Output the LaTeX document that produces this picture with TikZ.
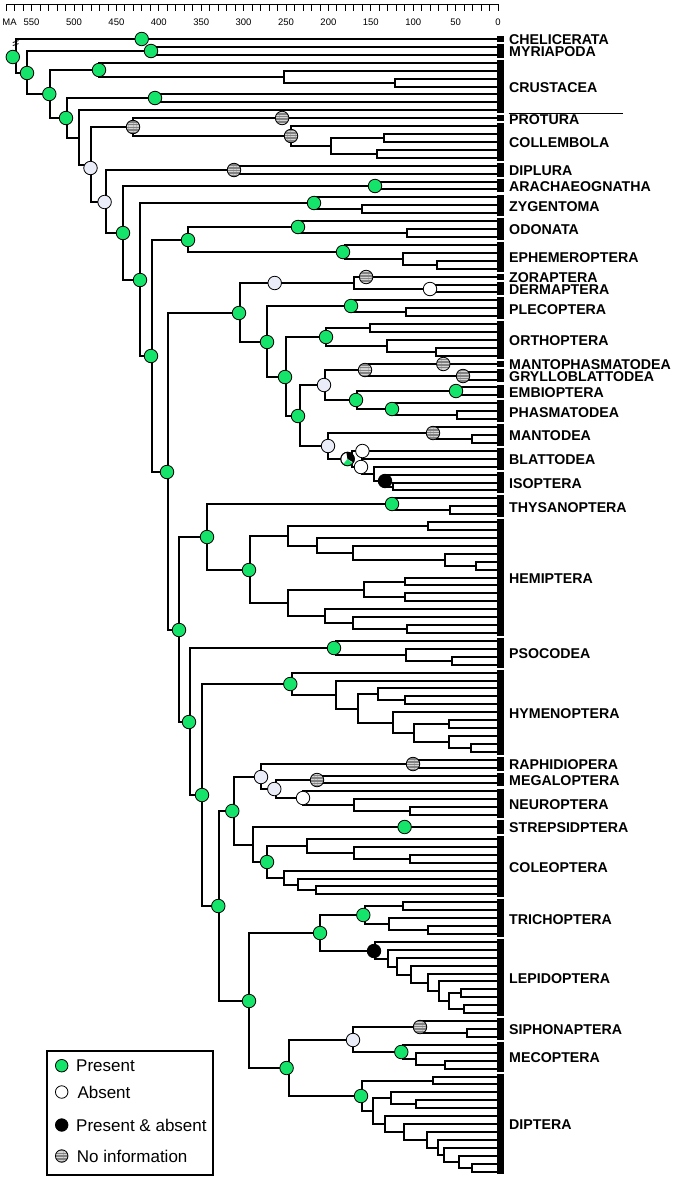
\documentclass[tikz,border=0pt]{standalone}
\usepackage{fontspec}
\setmainfont{Liberation Sans}
\usetikzlibrary{calc,patterns.meta}
\definecolor{pgreen}{RGB}{20,228,105}
\definecolor{lav}{RGB}{234,237,248}
\definecolor{ngray}{RGB}{130,130,130}
\definecolor{nstripe}{RGB}{212,212,212}
\newcommand\TY[1]{39+7.92*(#1)}
\newcommand\Nd[4]{\path let \p1=(#3),\p2=(#4) in coordinate (#1) at ({round(#2)*1pt},{round(0.5*(\y1+\y2))*1pt});\draw[br] (#3) -| (#1) |- (#4);}
\newcommand\Grp[4]{\fill (496.5,{\TY{#1}-2.9}) rectangle (503.5,{\TY{#2}+2.9});\node[lab] (#4) at (509,{0.5*(\TY{#1}+\TY{#2})+1}) {#3};}
\tikzset{
  br/.style={line width=1.8pt},
  mk/.style={circle,draw=black,line width=0.8pt,minimum size=13.5pt,inner sep=0pt},
  stPres/.style={mk,fill=pgreen},
  stAbs/.style={mk,fill=white},
  stAbsL/.style={mk,fill=lav},
  stBoth/.style={mk,fill=black},
  stNo/.style={mk,preaction={fill=ngray},pattern={Lines[angle=0,distance=2.7pt,line width=1.1pt]},pattern color=nstripe},
  lab/.style={anchor=west,font=\fontsize{14.2}{16}\selectfont\bfseries,inner sep=0pt},
  axl/.style={font=\fontsize{9.5}{10}\selectfont,inner sep=0pt},
  leg/.style={anchor=west,font=\fontsize{17}{19}\selectfont,inner sep=0pt},
}
\begin{document}
\begin{tikzpicture}[x=1pt,y=-1pt]
\useasboundingbox (0,0) rectangle (676,1179);
% axis
\draw[line width=1.1pt] (6.2,4.5) -- (498.5,4.5);
\foreach \t in {0,10,...,580} {\draw[line width=0.8pt] ({498-0.848*\t},4.5) -- ++(0,6);}
\foreach \t in {0,50,...,550} {\node[axl] (ax\t) at ({498-0.848*\t},22) {\t};}
\node[axl] (axMA) at (9.5,22) {MA};
% tips
\foreach \k in {0,...,143} {\coordinate (k\k) at (497,{round(\TY{\k})});}
\coordinate (str) at (497,827);
% tree
\Nd{cC}{395.2}{k5}{k6}
\Nd{cB}{283.8}{k4}{cC}
\Nd{cA}{98.8}{k3}{cB}
\Nd{cD}{154.7}{k7}{k8}
\Nd{my}{151.2}{k1}{k2}
\Nd{co2}{383.9}{k12}{k13}
\Nd{co3}{377}{k14}{k15}
\Nd{co1}{330.6}{co2}{co3}
\Nd{col}{291.2}{k11}{co1}
\Nd{ent}{132.5}{k10}{col}
\Nd{dip}{234}{k16}{k17}
\Nd{arc}{375.3}{k18}{k19}
\Nd{zy1}{361.8}{k21}{k22}
\Nd{zyg}{314.2}{k20}{zy1}
\Nd{od1}{407.3}{k24}{k25}
\Nd{odo}{298.1}{k23}{od1}
\Nd{e2}{436.6}{k28}{k29}
\Nd{e1}{402.9}{k27}{e2}
\Nd{eph}{344.5}{k26}{e1}
\Nd{pal}{188.3}{odo}{eph}
\Nd{der}{429.8}{k31}{k32}
\Nd{zd}{354}{k30}{der}
\Nd{pl1}{405.6}{k34}{k35}
\Nd{ple}{353.3}{k33}{pl1}
\Nd{or1}{369.8}{k36}{k37}
\Nd{or3}{435.9}{k39}{k40}
\Nd{or2}{386.7}{k38}{or3}
\Nd{ort}{326}{or1}{or2}
\Nd{gry}{462.9}{k42}{k43}
\Nd{mg}{364.8}{k41}{gry}
\Nd{emb}{458.5}{k44}{k45}
\Nd{ph1}{456.8}{k47}{k48}
\Nd{pha}{391.7}{k46}{ph1}
\Nd{ep}{356.7}{emb}{pha}
\Nd{w}{324.6}{mg}{ep}
\Nd{ma1}{472}{k50}{k51}
\Nd{man}{432.5}{k49}{ma1}
\Nd{is1}{392.8}{k56}{k57}
\Nd{iso}{385}{k55}{is1}
\Nd{b2}{374.2}{k54}{iso}
\Nd{b1}{362.4}{k53}{b2}
\Nd{b0}{351.6}{k52}{b1}
\Nd{dic}{328}{man}{b0}
\Nd{d}{300}{w}{dic}
\Nd{p2}{285.5}{ort}{d}
\Nd{p1}{267.3}{ple}{p2}
\Nd{pol}{240.4}{zd}{p1}
\Nd{th1}{450}{k59}{k60}
\Nd{thy}{391.7}{k58}{th1}
\Nd{h1a}{428.2}{k61}{k62}
\Nd{h1e}{476.4}{k66}{k67}
\Nd{h1d}{445}{k65}{h1e}
\Nd{h1c}{353}{k64}{h1d}
\Nd{h1b}{316.9}{k63}{h1c}
\Nd{h1}{288.2}{h1a}{h1b}
\Nd{g1a}{405.2}{k68}{k69}
\Nd{g1b}{405.2}{k70}{k71}
\Nd{g1}{364.1}{g1a}{g1b}
\Nd{g4}{406.9}{k74}{k75}
\Nd{g3}{353}{k73}{g4}
\Nd{g2}{324.6}{k72}{g3}
\Nd{h2}{288.2}{g1}{g2}
\Nd{hem}{249.5}{h1}{h2}
\Nd{acr}{207.3}{thy}{hem}
\Nd{ps2}{451.8}{k78}{k79}
\Nd{ps1}{406.2}{k77}{ps2}
\Nd{pso}{336.4}{k76}{ps1}
\Nd{y5}{405.2}{k83}{k84}
\Nd{y3}{378.3}{k82}{y5}
\Nd{y7}{449.4}{k86}{k87}
\Nd{y9}{471}{k89}{k90}
\Nd{y8}{449.4}{k88}{y9}
\Nd{y6}{414}{y7}{y8}
\Nd{y4}{393.4}{k85}{y6}
\Nd{y2}{358.4}{y3}{y4}
\Nd{y1}{336.4}{k81}{y2}
\Nd{hym}{291.6}{k80}{y1}
\Nd{rap}{413}{k91}{k92}
\Nd{meg}{316.9}{k93}{k94}
\Nd{nu2}{409.6}{k97}{k98}
\Nd{nu1}{354}{k96}{nu2}
\Nd{neu}{303.4}{k95}{nu1}
\Nd{nb}{276.4}{meg}{neu}
\Nd{na}{261.3}{rap}{nb}
\Nd{c4}{409.6}{k103}{k104}
\Nd{c3}{354}{k102}{c4}
\Nd{c1}{306.8}{k101}{c3}
\Nd{c6}{316.2}{k107}{k108}
\Nd{c5}{297.7}{k106}{c6}
\Nd{c2}{284.2}{k105}{c5}
\Nd{cole}{267.3}{c1}{c2}
\Nd{sc}{252.8}{str}{cole}
\Nd{n6}{234.3}{na}{sc}
\Nd{t1}{402.9}{k109}{k110}
\Nd{t3}{428.2}{k112}{k113}
\Nd{t2}{388.7}{k111}{t3}
\Nd{tri}{365.1}{t1}{t2}
\Nd{l7}{460.9}{k120}{k121}
\Nd{l8}{463.6}{k122}{k123}
\Nd{l6}{449.1}{l7}{l8}
\Nd{l5}{438.9}{k119}{l6}
\Nd{l4}{428.2}{k118}{l5}
\Nd{l3}{410.6}{k117}{l4}
\Nd{l2}{397.1}{k116}{l3}
\Nd{l1}{387.7}{k115}{l2}
\Nd{lep}{375.2}{k114}{l1}
\Nd{amp}{319.6}{tri}{lep}
\Nd{s1}{466.9}{k125}{k126}
\Nd{sip}{419.7}{k124}{s1}
\Nd{m2}{445}{k129}{k130}
\Nd{m1}{416.4}{k128}{m2}
\Nd{mec}{402.9}{k127}{m1}
\Nd{ant}{353.3}{sip}{mec}
\Nd{dd1}{432.5}{k131}{k132}
\Nd{dd5}{416.4}{k134}{k135}
\Nd{dd3}{391.1}{k133}{dd5}
\Nd{dd11}{472}{k142}{k143}
\Nd{dd10}{458.5}{k141}{dd11}
\Nd{dd9}{444.3}{k140}{dd10}
\Nd{dd8}{437.6}{k139}{dd9}
\Nd{dd7}{426.5}{k138}{dd8}
\Nd{dd6}{403.5}{k137}{dd7}
\Nd{dd4}{385}{k136}{dd6}
\Nd{dd2}{373.2}{dd3}{dd4}
\Nd{dpt}{361.7}{dd1}{dd2}
\Nd{n8}{288.9}{ant}{dpt}
\Nd{n7}{248.8}{amp}{n8}
\Nd{n5}{219.1}{n6}{n7}
\Nd{bb4}{202.3}{hym}{n5}
\Nd{bb3}{189.5}{pso}{bb4}
\Nd{bb2}{179.3}{acr}{bb3}
\Nd{bb1}{168.3}{pol}{bb2}
\Nd{r9}{151.7}{pal}{bb1}
\Nd{r8}{140}{zyg}{r9}
\Nd{r7}{123.3}{arc}{r8}
\Nd{r6}{105.7}{dip}{r7}
\Nd{r5}{90.7}{ent}{r6}
\Nd{r4}{79}{k9}{r5}
\Nd{r3}{66.7}{cD}{r4}
\Nd{r2}{49.7}{cA}{r3}
\Nd{r1}{26.7}{my}{r2}
\Nd{rt}{15.7}{k0}{r1}
% break mark on root
\draw[line width=0.8pt] (12.8,42.5) -- (18.6,40.6) (12.8,45.5) -- (18.6,43.6);
% state circles
\node[stPres] (sCh) at (141.7,39) {};
\node[stPres] (sMy) at (my) {};
\node[stPres] (sRt) at ([xshift=-3.2pt,yshift=-1pt]rt) {};
\node[stPres] (sR1) at (r1) {};
\node[stPres] (sR2) at ([xshift=-0.7pt]r2) {};
\node[stPres] (sCA) at (cA) {};
\node[stPres] (sCD) at (cD) {};
\node[stPres] (sR3) at ([xshift=-1pt]r3) {};
\node[stAbsL] (sR5) at ([xshift=-0.5pt,yshift=-3pt]r5) {};
\node[stAbsL] (sR6) at ([xshift=-1.4pt]r6) {};
\node[stPres] (sR7) at (r7) {};
\node[stPres] (sR8) at (r8) {};
\node[stPres] (sR9) at ([xshift=-1pt]r9) {};
\node[stPres] (sBB1) at ([xshift=-1pt]bb1) {};
\node[stNo] (sEnt) at (ent) {};
\node[stNo] (sPro) at (282.1,{round(\TY{10})}) {};
\node[stNo] (sCol) at (col) {};
\node[stNo] (sDip) at (dip) {};
\node[stPres] (sArc) at (arc) {};
\node[stPres] (sZyg) at (zyg) {};
\node[stPres] (sPal) at (pal) {};
\node[stPres] (sOdo) at (odo) {};
\node[stPres] (sEph) at ([xshift=-2pt]eph) {};
\node[stPres] (sPol) at ([xshift=-1pt]pol) {};
\node[stAbsL] (sZD) at ([xshift=-79.3pt]zd) {};
\node[stNo] (sZor) at (366.1,{round(\TY{30})}) {};
\node[stAbs] (sDer) at (der) {};
\node[stPres] (sP1) at (p1) {};
\node[stPres] (sPle) at ([xshift=-2pt]ple) {};
\node[stPres] (sP2) at ([xshift=-1pt]p2) {};
\node[stPres] (sOrt) at (ort) {};
\node[stPres] (sD) at ([xshift=-2pt]d) {};
\node[stAbsL] (sW) at ([xshift=-1pt]w) {};
\node[stNo] (sMG) at (mg) {};
\node[stNo] (sMan0) at (443.3,{round(\TY{41})}) {};
\node[stNo] (sGry) at (gry) {};
\node[stPres] (sEP) at ([xshift=-1pt]ep) {};
\node[stPres] (sEmb) at ([xshift=-3pt]emb) {};
\node[stPres] (sPha) at (pha) {};
\node[stAbsL] (sDic) at (dic) {};
\node[stNo] (sMant) at (man) {};
\node[stAbs] (sB52) at (362.4,{round(\TY{52})}) {};
\node[stAbs] (sB1) at ([xshift=-1pt]b1) {};
\node[stAbs] (sB0) at ([xshift=-4.5pt]b0) {};
\fill (sB0.center) \foreach \a in {100,90,...,-30} {-- (sB0.\a)} -- cycle;
\fill[pgreen] (sB0.center) \foreach \a in {-40,-50,...,-130} {-- (sB0.\a)} -- cycle;
\node[mk] (sB0r) at (sB0) {};
\node[stBoth] (sIso) at (iso) {};
\node[stPres] (sAcr) at (acr) {};
\node[stPres] (sThy) at (thy) {};
\node[stPres] (sHem) at ([xshift=-1pt]hem) {};
\node[stPres] (sBB2) at (bb2) {};
\node[stPres] (sPso) at ([xshift=-2pt]pso) {};
\node[stPres] (sBB3) at ([xshift=-1pt]bb3) {};
\node[stPres] (sHym) at ([xshift=-1.7pt]hym) {};
\node[stPres] (sBB4) at (bb4) {};
\node[stAbsL] (sNa) at (na) {};
\node[stAbsL] (sNb) at ([xshift=-1.7pt]nb) {};
\node[stNo] (sRap) at (rap) {};
\node[stNo] (sMeg) at (meg) {};
\node[stAbs] (sNeu) at (neu) {};
\node[stPres] (sN6) at ([xshift=-1.7pt]n6) {};
\node[stPres] (sStr) at (404.6,827) {};
\node[stPres] (sCole) at (cole) {};
\node[stPres] (sN5) at ([xshift=-0.7pt]n5) {};
\node[stPres] (sAmp) at (amp) {};
\node[stPres] (sTri) at ([xshift=-1.7pt]tri) {};
\node[stBoth] (sLep) at ([xshift=-1pt]lep) {};
\node[stPres] (sN7) at (n7) {};
\node[stNo] (sSip) at (sip) {};
\node[stAbsL] (sAnt) at (ant) {};
\node[stPres] (sMec) at ([xshift=-1.7pt]mec) {};
\node[stPres] (sN8) at ([xshift=-2.4pt]n8) {};
\node[stPres] (sDpt) at ([xshift=-1pt]dpt) {};
% bars and labels
\Grp{0}{0}{CHELICERATA}{gA}
\Grp{1}{2}{MYRIAPODA}{gB}
\Grp{3}{9}{CRUSTACEA}{gC}
\draw[line width=0.9pt] (508.7,113.3) -- (623,113.3);
\Grp{10}{10}{PROTURA}{gD}
\Grp{11}{15}{COLLEMBOLA}{gE}
\Grp{16}{17}{DIPLURA}{gF}
\Grp{18}{19}{ARACHAEOGNATHA}{gG}
\Grp{20}{22}{ZYGENTOMA}{gH}
\Grp{23}{25}{ODONATA}{gI}
\Grp{26}{29}{EPHEMEROPTERA}{gJ}
\Grp{30}{30}{ZORAPTERA}{gK}
\Grp{31}{32}{DERMAPTERA}{gL}
\Grp{33}{35}{PLECOPTERA}{gM}
\Grp{36}{40}{ORTHOPTERA}{gN}
\Grp{41}{41}{MANTOPHASMATODEA}{gO}
\Grp{42}{43}{GRYLLOBLATTODEA}{gP}
\Grp{44}{45}{EMBIOPTERA}{gQ}
\Grp{46}{48}{PHASMATODEA}{gR}
\Grp{49}{51}{MANTODEA}{gS}
\Grp{52}{54}{BLATTODEA}{gT}
\Grp{55}{57}{ISOPTERA}{gU}
\Grp{58}{60}{THYSANOPTERA}{gV}
\Grp{61}{75}{HEMIPTERA}{gW}
\Grp{76}{79}{PSOCODEA}{gX}
\Grp{80}{90}{HYMENOPTERA}{gY}
\Grp{91}{92}{RAPHIDIOPERA}{gZ}
\Grp{93}{94}{MEGALOPTERA}{hA}
\Grp{95}{98}{NEUROPTERA}{hB}
\Grp{99}{100}{STREPSIDPTERA}{hC}
\Grp{101}{108}{COLEOPTERA}{hD}
\Grp{109}{113}{TRICHOPTERA}{hE}
\Grp{114}{123}{LEPIDOPTERA}{hF}
\Grp{124}{126}{SIPHONAPTERA}{hG}
\Grp{127}{130}{MECOPTERA}{hH}
\Grp{131}{143}{DIPTERA}{hI}
% legend
\draw[line width=2pt] (46.7,1051) rectangle (213.3,1175);
\node[stPres,minimum size=12.5pt] (lc1) at (61.7,1065.7) {};
\node[leg] (lt1) at (76,1066) {Present};
\node[stAbs,minimum size=12.5pt] (lc2) at (61.7,1092) {};
\node[leg] (lt2) at (77.3,1092.3) {Absent};
\node[stBoth,minimum size=12.5pt] (lc3) at (61.7,1125) {};
\node[leg] (lt3) at (76,1125.3) {Present \& absent};
\node[stNo,minimum size=12.5pt] (lc4) at (61.7,1156) {};
\node[leg] (lt4) at (76.7,1156.3) {No information};
\end{tikzpicture}
\end{document}
